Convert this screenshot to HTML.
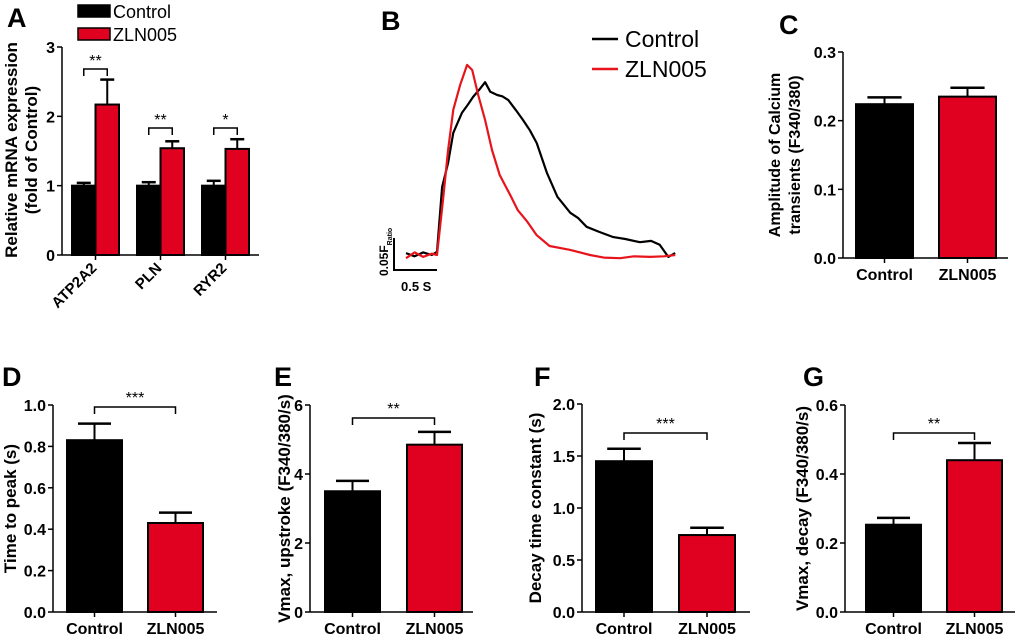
<!DOCTYPE html>
<html><head><meta charset="utf-8"><style>
html,body{margin:0;padding:0;background:#fff}
svg{display:block;font-family:"Liberation Sans",Arial,sans-serif}
</style></head><body>
<svg id="fig" width="1020" height="637" viewBox="0 0 1020 637"></svg>
<script>
// ---------- data ----------
const aCategories = ["ATP2A2","PLN","RYR2"];
const aControl = [1.0,1.0,1.0];
const aControlErr = [0.04,0.05,0.07];
const aZln = [2.17,1.54,1.53];
const aZlnErr = [0.36,0.10,0.14];
const aTicks = [0,1,2,3];
const aSig = ["**","**","*"];

const groups = ["Control","ZLN005"];
const cValues = [0.224,0.235]; const cErr = [0.010,0.013]; const cTicks = ["0.0","0.1","0.2","0.3"];
const dValues = [0.83,0.43]; const dErr = [0.08,0.05]; const dTicks = ["0.0","0.2","0.4","0.6","0.8","1.0"];
const eValues = [3.5,4.85]; const eErr = [0.30,0.37]; const eTicks = ["0","2","4","6"];
const fValues = [1.45,0.74]; const fErr = [0.12,0.07]; const fTicks = ["0.0","0.5","1.0","1.5","2.0"];
const gValues = [0.253,0.44]; const gErr = [0.02,0.05]; const gTicks = ["0.0","0.2","0.4","0.6"];

// calcium traces: time (s), delta ratio
const ctrlT = [0,0.1,0.2,0.3,0.36,0.42,0.49,0.55,0.65,0.72,0.78,0.85,0.92,0.98,1.06,1.12,1.19,1.28,1.36,1.44,1.52,1.64,1.76,1.91,2.0,2.10,2.25,2.41,2.55,2.72,2.85,2.95,3.05,3.13];
const ctrlV = [0.003,-0.002,0.004,0.0,0.005,0.106,0.144,0.191,0.222,0.235,0.247,0.258,0.270,0.255,0.250,0.248,0.242,0.226,0.211,0.195,0.175,0.128,0.091,0.066,0.058,0.044,0.036,0.028,0.025,0.020,0.022,0.016,-0.003,0.003];
const zlnT = [0,0.1,0.2,0.3,0.36,0.43,0.49,0.55,0.63,0.71,0.77,0.84,0.92,1.0,1.09,1.21,1.30,1.41,1.52,1.67,1.91,2.14,2.3,2.49,2.65,2.84,3.0,3.13];
const zlnV = [-0.005,0.004,-0.003,0.002,0.0,0.086,0.164,0.227,0.266,0.297,0.289,0.25,0.211,0.164,0.125,0.094,0.070,0.052,0.031,0.014,0.008,0.0,-0.004,-0.005,-0.002,-0.003,-0.002,0.0];

// ---------- helpers ----------
const NS = "http://www.w3.org/2000/svg";
const svg = document.getElementById("fig");
function mk(tag, attrs, parent, text){
  const e = document.createElementNS(NS, tag);
  for (const k in attrs) e.setAttribute(k, attrs[k]);
  if (text !== undefined) e.textContent = text;
  (parent||svg).appendChild(e);
  return e;
}
const RED = "#e00020";

function barPanel(p){
  const g = mk("g", {});
  
  
  const ymax = parseFloat(p.ticks[p.ticks.length-1]);
  const y = v => p.y0 - (v/ymax)*(p.y0-p.yTop);
  const L = mk("text",{x:p.letterX,y:p.letterY,"font-size":27,"font-weight":"bold"},g,p.letter);
  
  
  const ya = mk("line",{x1:p.ax,y1:p.yTop,x2:p.ax,y2:p.y0,stroke:"#000","stroke-width":1.5},g);
  
  
  const xa = mk("line",{x1:p.ax,y1:p.y0,x2:p.axEnd,y2:p.y0,stroke:"#000","stroke-width":1.5},g);
  
  
  p.ticks.forEach(t=>{
    const v = parseFloat(t);
    mk("line",{x1:p.ax-5,y1:y(v),x2:p.ax,y2:y(v),stroke:"#000","stroke-width":1.5},g);
    const tl = mk("text",{x:p.ax-7,y:y(v)+6,"font-size":16,"font-weight":"bold","text-anchor":"end"},g,t);
    
    
  });
  p.ytitle.forEach((s,i)=>{
    const cx = p.titleX + i*20;
    const cy = (p.yTop+p.y0)/2;
    const tt = mk("text",{x:cx,y:cy,"font-size":p.titleSize||17,"font-weight":"bold","text-anchor":"middle",transform:`rotate(-90 ${cx} ${cy})`},g,s);
    
    
  });
  p.values.forEach((v,i)=>{
    const x0 = p.barX[i], w = p.barW;
    const top = y(v), et = y(v+p.err[i]), cx = x0+w/2;
    mk("line",{x1:cx,y1:top,x2:cx,y2:et,stroke:"#000","stroke-width":2},g);
    mk("line",{x1:cx-w*0.3,y1:et,x2:cx+w*0.3,y2:et,stroke:"#000","stroke-width":2.5},g);
    const r = mk("rect",{x:x0,y:top,width:w,height:p.y0-top,fill:i?RED:"#000",stroke:"#000","stroke-width":2},g);
    
    
    mk("line",{x1:cx,y1:p.y0,x2:cx,y2:p.y0+5,stroke:"#000","stroke-width":1.5},g);
    const xl = mk("text",{x:cx,y:p.y0+22,"font-size":16,"font-weight":"bold","text-anchor":"middle"},g,groups[i]);
    
    
  });
  if (p.sig){
    const c0 = p.barX[0]+p.barW/2, c1 = p.barX[1]+p.barW/2;
    const bracket = mk("path",{d:`M${c0},${p.brY+7}V${p.brY}H${c1}V${p.brY+7}`,fill:"none",stroke:"#000","stroke-width":1.5},g);
    
    
    const st = mk("text",{x:(c0+c1)/2,y:p.brY-4,"font-size":16,"text-anchor":"middle"},g,p.sig);
    
    
  }
}

// ---------- panel A ----------
(function(){
  const g = mk("g",{});
  
  
  const ax=62, y0=255, yTop=47, axEnd=259;
  const y = v => y0 - v/3*(y0-yTop);
  mk("text",{x:7,y:27,"font-size":27,"font-weight":"bold"},g,"A");
  mk("line",{x1:ax,y1:yTop,x2:ax,y2:y0,stroke:"#000","stroke-width":1.5},g);
  mk("line",{x1:ax,y1:y0,x2:axEnd,y2:y0,stroke:"#000","stroke-width":1.5},g);
  aTicks.forEach(t=>{
    mk("line",{x1:ax-5,y1:y(t),x2:ax,y2:y(t),stroke:"#000","stroke-width":1.5},g);
    mk("text",{x:ax-7,y:y(t)+6,"font-size":16,"font-weight":"bold","text-anchor":"end"},g,String(t));
  });
  ["Relative mRNA expression","(fold of Control)"].forEach((s,i)=>{
    const cx=17+i*20, cy=150;
    const t = mk("text",{x:cx,y:cy,"font-size":17,"font-weight":"bold","text-anchor":"middle",transform:`rotate(-90 ${cx} ${cy})`},g,s);
    
    
  });
  const gx=[72,137,202], w=23.5;
  aCategories.forEach((c,i)=>{
    [[aControl[i],aControlErr[i],"#000"],[aZln[i],aZlnErr[i],RED]].forEach((d,j)=>{
      const x0=gx[i]+j*w, cx=x0+w/2, top=y(d[0]), et=y(d[0]+d[1]);
      mk("line",{x1:cx,y1:top,x2:cx,y2:et,stroke:"#000","stroke-width":2},g);
      mk("line",{x1:cx-7,y1:et,x2:cx+7,y2:et,stroke:"#000","stroke-width":2.5},g);
      const r = mk("rect",{x:x0,y:top,width:w,height:y0-top,fill:d[2],stroke:"#000","stroke-width":2},g);
      
      
    });
    const cx = gx[i]+w;
    mk("line",{x1:cx,y1:y0,x2:cx,y2:y0+5,stroke:"#000","stroke-width":1.5},g);
    const tl = mk("text",{x:cx+2,y:y0+14,"font-size":15,"font-weight":"bold","text-anchor":"end",transform:`rotate(-45 ${cx+2} ${y0+14})`},g,c);
    
    
    const by = i===0 ? 69 : 128;
    const c0 = gx[i]+w/2, c1 = gx[i]+w*1.5;
    mk("path",{d:`M${c0},${by+7}V${by}H${c1}V${by+7}`,fill:"none",stroke:"#000","stroke-width":1.5},g);
    mk("text",{x:(c0+c1)/2,y:by-3,"font-size":16,"text-anchor":"middle"},g,aSig[i]);
  });
  const lg = mk("g",{},g);
  
  
  mk("rect",{x:78,y:5,width:32,height:12,fill:"#000",stroke:"#000","stroke-width":1.5},lg);
  mk("text",{x:113,y:18,"font-size":18},lg,"Control");
  mk("rect",{x:78,y:28,width:32,height:12,fill:RED,stroke:"#000","stroke-width":1.5},lg);
  mk("text",{x:113,y:41,"font-size":18},lg,"ZLN005");
})();

// ---------- panel B ----------
(function(){
  const g = mk("g",{});
  
  
  const tx = t => 406 + t*86;
  const vy = v => 255 - v*640;
  mk("text",{x:381,y:30,"font-size":27,"font-weight":"bold"},g,"B");
  const mkPath=(T,V)=>T.map((t,i)=>(i?"L":"M")+tx(t).toFixed(1)+","+vy(V[i]).toFixed(1)).join("");
  const pc = mk("path",{d:mkPath(ctrlT,ctrlV),fill:"none",stroke:"#000","stroke-width":2.2,"stroke-linejoin":"round"},g);
  
  
  const pz = mk("path",{d:mkPath(zlnT,zlnV),fill:"none",stroke:"#e8141c","stroke-width":2.2,"stroke-linejoin":"round"},g);
  
  
  const sb = mk("path",{d:"M394,238V270H437",fill:"none",stroke:"#000","stroke-width":2},g);
  
  
  mk("text",{x:401,y:291,"font-size":13,"font-weight":"bold"},g,"0.5 S");
  const st = mk("text",{x:388,y:276,"font-size":12,"font-weight":"bold",transform:"rotate(-90 388 276)"},g);
  
  
  mk("tspan",{},st,"0.05F");
  mk("tspan",{"font-size":7,dy:4},st,"Ratio");
  const lg = mk("g",{},g);
  
  
  mk("line",{x1:592,y1:39,x2:618,y2:39,stroke:"#000","stroke-width":2.5},lg);
  mk("text",{x:625,y:47,"font-size":23},lg,"Control");
  mk("line",{x1:592,y1:69,x2:618,y2:69,stroke:"#e8141c","stroke-width":2.5},lg);
  mk("text",{x:625,y:77,"font-size":23},lg,"ZLN005");
})();

barPanel({name:"panel-c",letter:"C",letterX:779,letterY:34,ax:843,axEnd:1008,y0:258,yTop:52,ticks:cTicks,values:cValues,err:cErr,barX:[856,939],barW:57,ytitle:["Amplitude of Calcium","transients (F340/380)"],titleX:780,titleSize:16});
barPanel({name:"panel-d",letter:"D",letterX:2,letterY:386,ax:53,axEnd:217,y0:612,yTop:405,ticks:dTicks,values:dValues,err:dErr,barX:[67,148],barW:55,ytitle:["Time to peak (s)"],titleX:16,sig:"***",brY:407});
barPanel({name:"panel-e",letter:"E",letterX:274,letterY:386,ax:310,axEnd:473,y0:612,yTop:405,ticks:eTicks,values:eValues,err:eErr,barX:[325,407],barW:55,ytitle:["Vmax, upstroke (F340/380/s)"],titleX:290,sig:"**",brY:418});
barPanel({name:"panel-f",letter:"F",letterX:534,letterY:386,ax:582,axEnd:750,y0:612,yTop:404,ticks:fTicks,values:fValues,err:fErr,barX:[596,679],barW:56,ytitle:["Decay time constant (s)"],titleX:541,sig:"***",brY:433});
barPanel({name:"panel-g",letter:"G",letterX:803,letterY:386,ax:845,axEnd:1015,y0:612,yTop:405,ticks:gTicks,values:gValues,err:gErr,barX:[866,947],barW:55,ytitle:["Vmax, decay (F340/380/s)"],titleX:808,sig:"**",brY:433});
</script>
</body></html>
